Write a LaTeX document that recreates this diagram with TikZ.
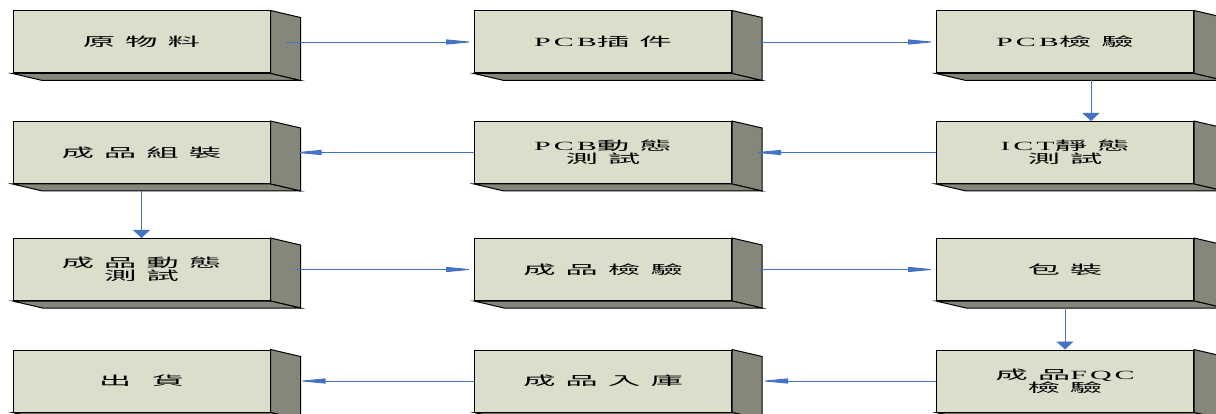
\documentclass[tikz,border=0pt]{standalone}
\usepackage{fontspec}
\setmainfont{Liberation Serif}
\newfontfamily\cjk[FakeStretch=2.6]{Noto Sans CJK TC}
\newfontfamily\lat[FakeStretch=2.4]{Liberation Serif}
\usetikzlibrary{arrows.meta}
\definecolor{facefill}{HTML}{DCDECB}
\definecolor{sidefill}{HTML}{85877A}
\definecolor{flowblue}{HTML}{4472C4}
\tikzset{
	stepblk/.style={draw=black, line width=1pt, fill=facefill, minimum width=257pt, minimum height=62pt, inner sep=0pt, align=center, font=\cjk\fontsize{12.5}{13}\selectfont},
	face/.style={draw=black, line width=1pt, fill=sidefill, line join=miter},
	hflow/.style={draw=flowblue, line width=0.9pt, -{Triangle[length=28pt,width=5pt]}},
	vflow/.style={draw=flowblue, line width=0.9pt, -{Triangle[length=8pt,width=17pt]}}
}

\begin{document}
\begin{tikzpicture}[x=1pt,y=-1pt]
	\def \gap{\hspace{10pt}}
	\def \lgap{\hspace{3pt}}
	\def \dx{30}
	\def \dy{7}
	\useasboundingbox (0,0) rectangle (1216,414);
	% row 1
	\node[stepblk] (raw) at (141.5,42) {原\gap 物\gap 料};
	\node[stepblk] (dip) at (603,42) {{\lat P\lgap C\lgap B}插\gap 件};
	\node[stepblk] (pcbchk) at (1065,42) {{\lat P\lgap C\lgap B}檢\gap 驗};
	% row 2
	\node[stepblk] (assy) at (141.5,152.5) {成\gap 品\gap 組\gap 裝};
	\node[stepblk] (pcbtest) at (603,152.5) {{\lat P\lgap C\lgap B}動\gap 態\\測\gap 試};
	\node[stepblk] (ict) at (1065,152.5) {{\lat I\lgap C\lgap T}靜\gap 態\\測\gap 試};
	% row 3
	\node[stepblk] (fintest) at (141.5,269.5) {成\gap 品\gap 動\gap 態\\測\gap 試};
	\node[stepblk] (finchk) at (603,269.5) {成\gap 品\gap 檢\gap 驗};
	\node[stepblk] (pack) at (1065,269.5) {包\gap 裝};
	% row 4
	\node[stepblk] (ship) at (141.5,381) {出\gap\hspace{3pt} 貨};
	\node[stepblk] (store) at (603,381) {成\gap 品\gap 入\gap 庫};
	\node[stepblk] (fqc) at (1065,381) {成\gap 品{\lat F\lgap Q\lgap C}\\檢\gap 驗};
	% side and bottom faces
	\foreach \n in {raw,dip,pcbchk,assy,pcbtest,ict,fintest,finchk,pack,ship,store,fqc}{
		\draw[face] (\n.north east) -- ++(\dx,\dy) -- ([shift={(\dx,\dy)}]\n.south east) -- (\n.south east) -- cycle;
		\draw[face] (\n.south west) -- (\n.south east) -- ([shift={(\dx,\dy)}]\n.south east) -- ([shift={(\dx,\dy)}]\n.south west) -- cycle;
	}
	% flow
	\draw[hflow] ([xshift=15pt]raw.east) -- (dip.west);
	\draw[hflow] ([xshift=28pt]dip.east) -- (pcbchk.west);
	\draw[vflow] ([shift={(26,\dy)}]pcbchk.south) -- ([xshift=26pt]pcbchk.south |- ict.north);
	\draw[hflow] (ict.west) -- ([xshift=21pt]pcbtest.east);
	\draw[hflow] (pcbtest.west) -- ([xshift=23pt]assy.east);
	\draw[vflow] ([shift={(0,\dy)}]assy.south) -- (fintest.north);
	\draw[hflow] ([xshift=25pt]fintest.east) -- (finchk.west);
	\draw[hflow] ([xshift=28pt]finchk.east) -- (pack.west);
	\draw[vflow] ([shift={(0,\dy)}]pack.south) -- (fqc.north);
	\draw[hflow] (fqc.west) -- ([xshift=28pt]store.east);
	\draw[hflow] (store.west) -- ([xshift=27pt]ship.east);
\end{tikzpicture}
\end{document}
